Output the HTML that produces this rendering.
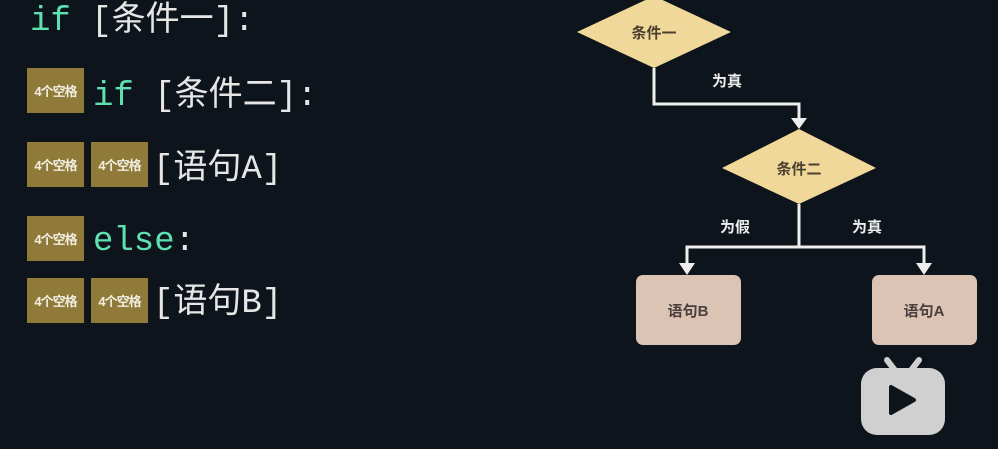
<!DOCTYPE html>
<html><head><meta charset="utf-8"><style>
body{margin:0;width:998px;height:449px;background:#0e141b;overflow:hidden;position:relative;font-family:"Liberation Mono","Noto Sans CJK SC",monospace;}
.l{position:absolute;left:30px;font-size:34px;color:#e6e6e6;white-space:nowrap;line-height:40px;}
.k{color:#5fe0b0}
.b{position:absolute;width:57px;height:45px;background:#8f7a3a;color:#f2eee0;font:bold 13px "Liberation Sans","Noto Sans CJK SC",sans-serif;display:flex;align-items:center;justify-content:center;letter-spacing:-1px;}
</style></head><body>
<div class="l" style="top:2px"><span class="k">if</span> [条件一]:</div>
<div class="b" style="left:27px;top:68px">4个空格</div>
<div class="l" style="left:93px;top:77px"><span class="k">if</span> [条件二]:</div>
<div class="b" style="left:27px;top:142px">4个空格</div><div class="b" style="left:91px;top:142px">4个空格</div>
<div class="l" style="left:153px;top:150px">[语句A]</div>
<div class="b" style="left:27px;top:216px">4个空格</div>
<div class="l" style="left:93px;top:222px"><span class="k">else</span>:</div>
<div class="b" style="left:27px;top:278px">4个空格</div><div class="b" style="left:91px;top:278px">4个空格</div>
<div class="l" style="left:153px;top:284px">[语句B]</div>
<svg width="998" height="449" style="position:absolute;left:0;top:0" font-family="Liberation Sans,Noto Sans CJK SC,sans-serif" font-weight="bold">
<polygon points="577,32 654,-4 731,32 654,68" fill="#f0d89a"/>
<text x="654" y="38" font-size="15" fill="#4a4030" text-anchor="middle">条件一</text>
<polyline points="654,68 654,104 799,104 799,122" fill="none" stroke="#eee" stroke-width="3"/>
<polygon points="791,118 807,118 799,129" fill="#eee"/>
<text x="727" y="86" font-size="15" fill="#eee" text-anchor="middle">为真</text>
<polygon points="722,168 799,129 876,168 799,204" fill="#f0d89a"/>
<text x="799" y="174" font-size="15" fill="#4a4030" text-anchor="middle">条件二</text>
<polyline points="799,204 799,247" fill="none" stroke="#eee" stroke-width="3"/>
<polyline points="687,268 687,247 924,247 924,268" fill="none" stroke="#eee" stroke-width="3"/>
<polygon points="679,263 695,263 687,275" fill="#eee"/>
<polygon points="916,263 932,263 924,275" fill="#eee"/>
<text x="735" y="232" font-size="15" fill="#eee" text-anchor="middle">为假</text>
<text x="867" y="232" font-size="15" fill="#eee" text-anchor="middle">为真</text>
<rect x="636" y="275" width="105" height="70" rx="7" fill="#dcc4b4"/>
<text x="688" y="316" font-size="15" fill="#4a4040" text-anchor="middle">语句B</text>
<rect x="872" y="275" width="105" height="70" rx="7" fill="#dcc4b4"/>
<text x="924" y="316" font-size="15" fill="#4a4040" text-anchor="middle">语句A</text>
<g fill="#d0d0d0">
<line x1="887" y1="360" x2="897" y2="373" stroke="#d0d0d0" stroke-width="6" stroke-linecap="round"/>
<line x1="919" y1="360" x2="909" y2="373" stroke="#d0d0d0" stroke-width="6" stroke-linecap="round"/>
<rect x="861" y="368" width="84" height="67" rx="16"/>
</g>
<polygon points="891,387 891,413 914,400" fill="#0e141b" stroke="#0e141b" stroke-width="4" stroke-linejoin="round"/>
</svg>
</body></html>
